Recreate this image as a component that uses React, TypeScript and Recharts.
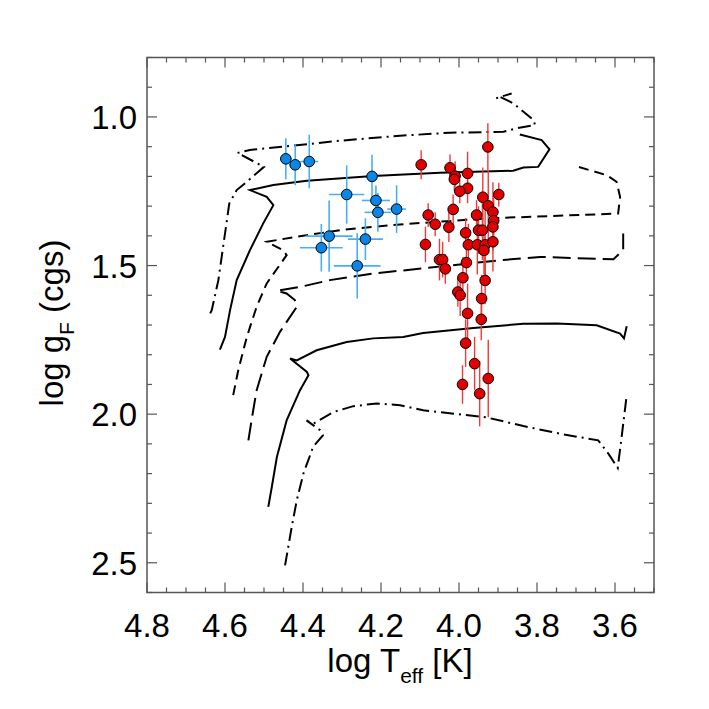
import React from 'react';
import { ComposedChart, XAxis, YAxis, Line, Scatter, ErrorBar, ReferenceArea } from 'recharts';

// plot box (pixels) - matches the IDL frame
const PLOT_LEFT = 147;
const PLOT_RIGHT = 654;
const PLOT_TOP = 57.5;
const FRAME = '#555';
const FONT = '"Liberation Sans", Arial, Helvetica, sans-serif';

const xTicks = [4.8, 4.75, 4.7, 4.65, 4.6, 4.55, 4.5, 4.45, 4.4, 4.35, 4.3, 4.25, 4.2, 4.15, 4.1, 4.05, 4.0, 3.95, 3.9, 3.85, 3.8, 3.75, 3.7, 3.65, 3.6, 3.55, 3.5];
const xMajor = [4.8, 4.6, 4.4, 4.2, 4.0, 3.8, 3.6];
const yTicks = [0.8, 0.9, 1.0, 1.1, 1.2, 1.3, 1.4, 1.5, 1.6, 1.7, 1.8, 1.9, 2.0, 2.1, 2.2, 2.3, 2.4, 2.5, 2.6];
const yMajor = [1.0, 1.5, 2.0, 2.5];

// hot stars (blue)
const bluePts = [
  { x: 4.444, y: 1.141, ex: 0.015, ey: 0.069 },
  { x: 4.420, y: 1.161, ex: 0.015, ey: 0.069 },
  { x: 4.384, y: 1.150, ex: 0.023, ey: 0.09 },
  { x: 4.223, y: 1.200, ex: 0.012, ey: 0.073 },
  { x: 4.288, y: 1.261, ex: 0.045, ey: 0.098 },
  { x: 4.213, y: 1.281, ex: 0.036, ey: 0.05 },
  { x: 4.208, y: 1.321, ex: 0.034, ey: 0.065 },
  { x: 4.160, y: 1.310, ex: 0.024, ey: 0.08 },
  { x: 4.333, y: 1.401, ex: 0.06, ey: 0.12 },
  { x: 4.353, y: 1.440, ex: 0.055, ey: 0.08 },
  { x: 4.240, y: 1.411, ex: 0.045, ey: 0.07 },
  { x: 4.261, y: 1.501, ex: 0.06, ey: 0.11 },
];

// cool stars (red)
const redPts = [
  { x: 4.097, y: 1.161, ex: 0.012, ey: 0.049 },
  { x: 3.926, y: 1.101, ex: 0, ey: 0.08 },
  { x: 4.023, y: 1.171, ex: 0.015, ey: 0.045 },
  { x: 3.978, y: 1.190, ex: 0, ey: 0.073 },
  { x: 4.010, y: 1.199, ex: 0, ey: 0.05 },
  { x: 4.012, y: 1.210, ex: 0, ey: 0.04 },
  { x: 3.978, y: 1.240, ex: 0, ey: 0.05 },
  { x: 3.998, y: 1.250, ex: 0, ey: 0.04 },
  { x: 3.939, y: 1.270, ex: 0, ey: 0.1 },
  { x: 3.898, y: 1.261, ex: 0, ey: 0.04 },
  { x: 3.925, y: 1.299, ex: 0, ey: 0.12 },
  { x: 3.913, y: 1.320, ex: 0, ey: 0.1 },
  { x: 4.015, y: 1.311, ex: 0, ey: 0.05 },
  { x: 4.079, y: 1.330, ex: 0, ey: 0.04 },
  { x: 3.955, y: 1.330, ex: 0, ey: 0.05 },
  { x: 3.911, y: 1.349, ex: 0, ey: 0.09 },
  { x: 3.913, y: 1.370, ex: 0, ey: 0.08 },
  { x: 4.061, y: 1.361, ex: 0, ey: 0.04 },
  { x: 4.026, y: 1.371, ex: 0, ey: 0.05 },
  { x: 3.950, y: 1.381, ex: 0, ey: 0.08 },
  { x: 3.940, y: 1.381, ex: 0, ey: 0.1 },
  { x: 3.983, y: 1.390, ex: 0, ey: 0.05 },
  { x: 4.086, y: 1.429, ex: 0, ey: 0.06 },
  { x: 3.976, y: 1.430, ex: 0, ey: 0.07 },
  { x: 3.953, y: 1.430, ex: 0, ey: 0.1 },
  { x: 3.933, y: 1.430, ex: 0, ey: 0.12 },
  { x: 3.913, y: 1.420, ex: 0, ey: 0.1 },
  { x: 3.936, y: 1.449, ex: 0, ey: 0.08 },
  { x: 4.050, y: 1.480, ex: 0, ey: 0.07 },
  { x: 4.042, y: 1.480, ex: 0, ey: 0.06 },
  { x: 4.035, y: 1.511, ex: 0, ey: 0.05 },
  { x: 3.981, y: 1.490, ex: 0, ey: 0.06 },
  { x: 3.990, y: 1.541, ex: 0, ey: 0.07 },
  { x: 3.933, y: 1.550, ex: 0, ey: 0.08 },
  { x: 4.003, y: 1.589, ex: 0, ey: 0.05 },
  { x: 3.997, y: 1.600, ex: 0, ey: 0.07 },
  { x: 3.942, y: 1.611, ex: 0, ey: 0.08 },
  { x: 3.978, y: 1.661, ex: 0, ey: 0.1 },
  { x: 3.943, y: 1.681, ex: 0, ey: 0.07 },
  { x: 3.983, y: 1.761, ex: 0, ey: 0.08 },
  { x: 3.960, y: 1.830, ex: 0, ey: 0.09 },
  { x: 3.925, y: 1.880, ex: 0, ey: 0.13 },
  { x: 3.991, y: 1.900, ex: 0, ey: 0.065 },
  { x: 3.947, y: 1.931, ex: 0, ey: 0.11 },
];

// evolutionary tracks
const trackDashDotTop = [
  { x: 4.638, y: 1.661 }, { x: 4.634, y: 1.650 }, { x: 4.617, y: 1.549 }, { x: 4.589, y: 1.291 },
  { x: 4.570, y: 1.246 }, { x: 4.544, y: 1.218 }, { x: 4.500, y: 1.168 }, { x: 4.568, y: 1.121 },
  { x: 4.536, y: 1.111 }, { x: 4.450, y: 1.100 }, { x: 4.305, y: 1.080 }, { x: 4.160, y: 1.064 },
  { x: 4.023, y: 1.053 }, { x: 3.886, y: 1.050 }, { x: 3.852, y: 1.038 }, { x: 3.805, y: 1.027 },
  { x: 3.809, y: 1.010 }, { x: 3.861, y: 0.954 }, { x: 3.895, y: 0.932 }, { x: 3.905, y: 0.937 },
  { x: 3.865, y: 0.921 },
];
const trackSolidTop = [
  { x: 4.613, y: 1.783 }, { x: 4.600, y: 1.740 }, { x: 4.587, y: 1.650 }, { x: 4.570, y: 1.549 },
  { x: 4.536, y: 1.448 }, { x: 4.502, y: 1.358 }, { x: 4.476, y: 1.297 }, { x: 4.493, y: 1.269 },
  { x: 4.536, y: 1.246 }, { x: 4.476, y: 1.229 }, { x: 4.390, y: 1.215 }, { x: 4.220, y: 1.199 },
  { x: 4.049, y: 1.188 }, { x: 3.861, y: 1.181 }, { x: 3.835, y: 1.170 }, { x: 3.797, y: 1.168 },
  { x: 3.768, y: 1.109 }, { x: 3.788, y: 1.078 }, { x: 3.844, y: 1.059 },
];
const trackShortDash = [
  { x: 4.579, y: 1.936 }, { x: 4.566, y: 1.852 }, { x: 4.544, y: 1.740 }, { x: 4.519, y: 1.639 },
  { x: 4.493, y: 1.560 }, { x: 4.442, y: 1.465 }, { x: 4.451, y: 1.448 }, { x: 4.493, y: 1.420 },
  { x: 4.416, y: 1.403 }, { x: 4.305, y: 1.381 }, { x: 4.177, y: 1.364 }, { x: 3.921, y: 1.341 },
  { x: 3.592, y: 1.325 }, { x: 3.587, y: 1.269 }, { x: 3.596, y: 1.218 }, { x: 3.621, y: 1.196 },
  { x: 3.694, y: 1.168 },
];
const trackLongDash = [
  { x: 4.540, y: 2.088 }, { x: 4.532, y: 2.021 }, { x: 4.519, y: 1.920 }, { x: 4.493, y: 1.807 },
  { x: 4.459, y: 1.723 }, { x: 4.416, y: 1.639 }, { x: 4.421, y: 1.616 }, { x: 4.442, y: 1.594 },
  { x: 4.467, y: 1.585 }, { x: 4.408, y: 1.572 }, { x: 4.331, y: 1.549 }, { x: 4.220, y: 1.527 },
  { x: 4.177, y: 1.521 }, { x: 3.895, y: 1.482 }, { x: 3.792, y: 1.471 }, { x: 3.604, y: 1.479 },
  { x: 3.579, y: 1.448 }, { x: 3.579, y: 1.392 },
];
const trackSolidLow = [
  { x: 4.489, y: 2.312 }, { x: 4.480, y: 2.245 }, { x: 4.467, y: 2.144 }, { x: 4.442, y: 2.021 },
  { x: 4.408, y: 1.920 }, { x: 4.386, y: 1.869 }, { x: 4.390, y: 1.858 }, { x: 4.433, y: 1.813 },
  { x: 4.416, y: 1.819 }, { x: 4.365, y: 1.785 }, { x: 4.288, y: 1.757 }, { x: 4.220, y: 1.745 },
  { x: 4.143, y: 1.740 }, { x: 4.092, y: 1.727 }, { x: 3.963, y: 1.710 }, { x: 3.835, y: 1.696 },
  { x: 3.749, y: 1.695 }, { x: 3.647, y: 1.701 }, { x: 3.587, y: 1.729 }, { x: 3.577, y: 1.745 },
  { x: 3.570, y: 1.704 },
];
const trackDashDotLow = [
  { x: 4.446, y: 2.509 }, { x: 4.429, y: 2.380 }, { x: 4.416, y: 2.290 }, { x: 4.399, y: 2.200 },
  { x: 4.374, y: 2.110 }, { x: 4.349, y: 2.071 }, { x: 4.356, y: 2.054 }, { x: 4.391, y: 2.021 },
  { x: 4.374, y: 2.032 }, { x: 4.322, y: 1.993 }, { x: 4.271, y: 1.973 }, { x: 4.211, y: 1.964 },
  { x: 4.151, y: 1.970 }, { x: 4.092, y: 1.987 }, { x: 3.929, y: 2.011 }, { x: 3.835, y: 2.040 },
  { x: 3.733, y: 2.068 }, { x: 3.643, y: 2.088 }, { x: 3.617, y: 2.133 }, { x: 3.593, y: 2.181 },
  { x: 3.583, y: 2.077 }, { x: 3.570, y: 1.936 },
];

const isIn = (list: number[], v: number) => list.some(m => Math.abs(m - v) < 1e-6);

const XTick = (props: any) => {
  const { x, y, payload } = props;
  const major = isIn(xMajor, payload.value);
  const len = major ? 10 : 5;
  return (
    <g>
      <line x1={x} y1={y} x2={x} y2={y - len} stroke={FRAME} strokeWidth={1.2} />
      <line x1={x} y1={PLOT_TOP} x2={x} y2={PLOT_TOP + len} stroke={FRAME} strokeWidth={1.2} />
      {major && (
        <text x={x} y={y + 44} textAnchor="middle" fontFamily={FONT} fontSize={33} fill="#000">
          {payload.value.toFixed(1)}
        </text>
      )}
    </g>
  );
};

const YTick = (props: any) => {
  const { x, y, payload } = props;
  const major = isIn(yMajor, payload.value);
  const len = major ? 10 : 5;
  return (
    <g>
      <line x1={x} y1={y} x2={x + len} y2={y} stroke={FRAME} strokeWidth={1.2} />
      <line x1={PLOT_RIGHT} y1={y} x2={PLOT_RIGHT - len} y2={y} stroke={FRAME} strokeWidth={1.2} />
      {major && (
        <text x={x - 10} y={y + 12} textAnchor="end" fontFamily={FONT} fontSize={33} fill="#000">
          {payload.value.toFixed(1)}
        </text>
      )}
    </g>
  );
};

const XTitle = () => (
  <text x={400} y={672} textAnchor="middle" fontFamily={FONT} fontSize={33} fill="#000">
    log T<tspan fontSize={21} dy={11}>eff</tspan><tspan dy={-11}> [K]</tspan>
  </text>
);

const YTitle = () => (
  <text x={63} y={323} textAnchor="middle" transform="rotate(-90, 63, 323)" fontFamily={FONT} fontSize={33} fill="#000">
    log g<tspan fontSize={21} dy={11}>F</tspan><tspan dy={-11}> (cgs)</tspan>
  </text>
);

const dot = (fill: string) => (p: any) => (
  <circle cx={p.cx} cy={p.cy} r={5.3} fill={fill} stroke="#000" strokeWidth={1} />
);

const App = () => (
  <div style={{ position: 'absolute', left: 0, top: 0, width: 709, height: 709, background: '#fff' }}>
    <ComposedChart width={709} height={709} margin={{ top: PLOT_TOP, right: 709 - PLOT_RIGHT, bottom: 56.5, left: PLOT_LEFT - 60 }}>
      <XAxis
        type="number" dataKey="x" domain={[3.5, 4.8]} reversed allowDataOverflow
        ticks={xTicks} interval={0} tickSize={0} tickMargin={0} tickLine={false}
        axisLine={false} height={60} tick={<XTick />} label={<XTitle />}
      />
      <YAxis
        type="number" dataKey="y" domain={[0.8, 2.6]} reversed allowDataOverflow
        ticks={yTicks} interval={0} tickSize={0} tickMargin={0} tickLine={false}
        axisLine={false} width={60} tick={<YTick />} label={<YTitle />}
      />
      <ReferenceArea x1={4.8} x2={3.5} y1={0.8} y2={2.6} fill="none" fillOpacity={0} stroke={FRAME} strokeWidth={1.5} ifOverflow="visible" />

      <Line data={trackDashDotTop} dataKey="y" type="linear" stroke="#000" strokeWidth={2} strokeDasharray="13 5 2 5" dot={false} isAnimationActive={false} />
      <Line data={trackSolidTop} dataKey="y" type="linear" stroke="#000" strokeWidth={2} dot={false} isAnimationActive={false} />
      <Line data={trackShortDash} dataKey="y" type="linear" stroke="#000" strokeWidth={2} strokeDasharray="10 6" dot={false} isAnimationActive={false} />
      <Line data={trackLongDash} dataKey="y" type="linear" stroke="#000" strokeWidth={2} strokeDasharray="18 7" dot={false} isAnimationActive={false} />
      <Line data={trackSolidLow} dataKey="y" type="linear" stroke="#000" strokeWidth={2} dot={false} isAnimationActive={false} />
      <Line data={trackDashDotLow} dataKey="y" type="linear" stroke="#000" strokeWidth={2} strokeDasharray="13 5 2 5" dot={false} isAnimationActive={false} />

      <Scatter data={bluePts} dataKey="y" shape={dot('#0a86e6')} isAnimationActive={false}>
        <ErrorBar dataKey="ex" direction="x" width={0} stroke="#4aaef2" strokeWidth={1.6} />
        <ErrorBar dataKey="ey" direction="y" width={0} stroke="#4aaef2" strokeWidth={1.6} />
      </Scatter>
      <Scatter data={redPts} dataKey="y" shape={dot('#e00000')} isAnimationActive={false}>
        <ErrorBar dataKey="ex" direction="x" width={0} stroke="#f03a3a" strokeWidth={1.4} />
        <ErrorBar dataKey="ey" direction="y" width={0} stroke="#f03a3a" strokeWidth={1.4} />
      </Scatter>
    </ComposedChart>
  </div>
);

export default App;
